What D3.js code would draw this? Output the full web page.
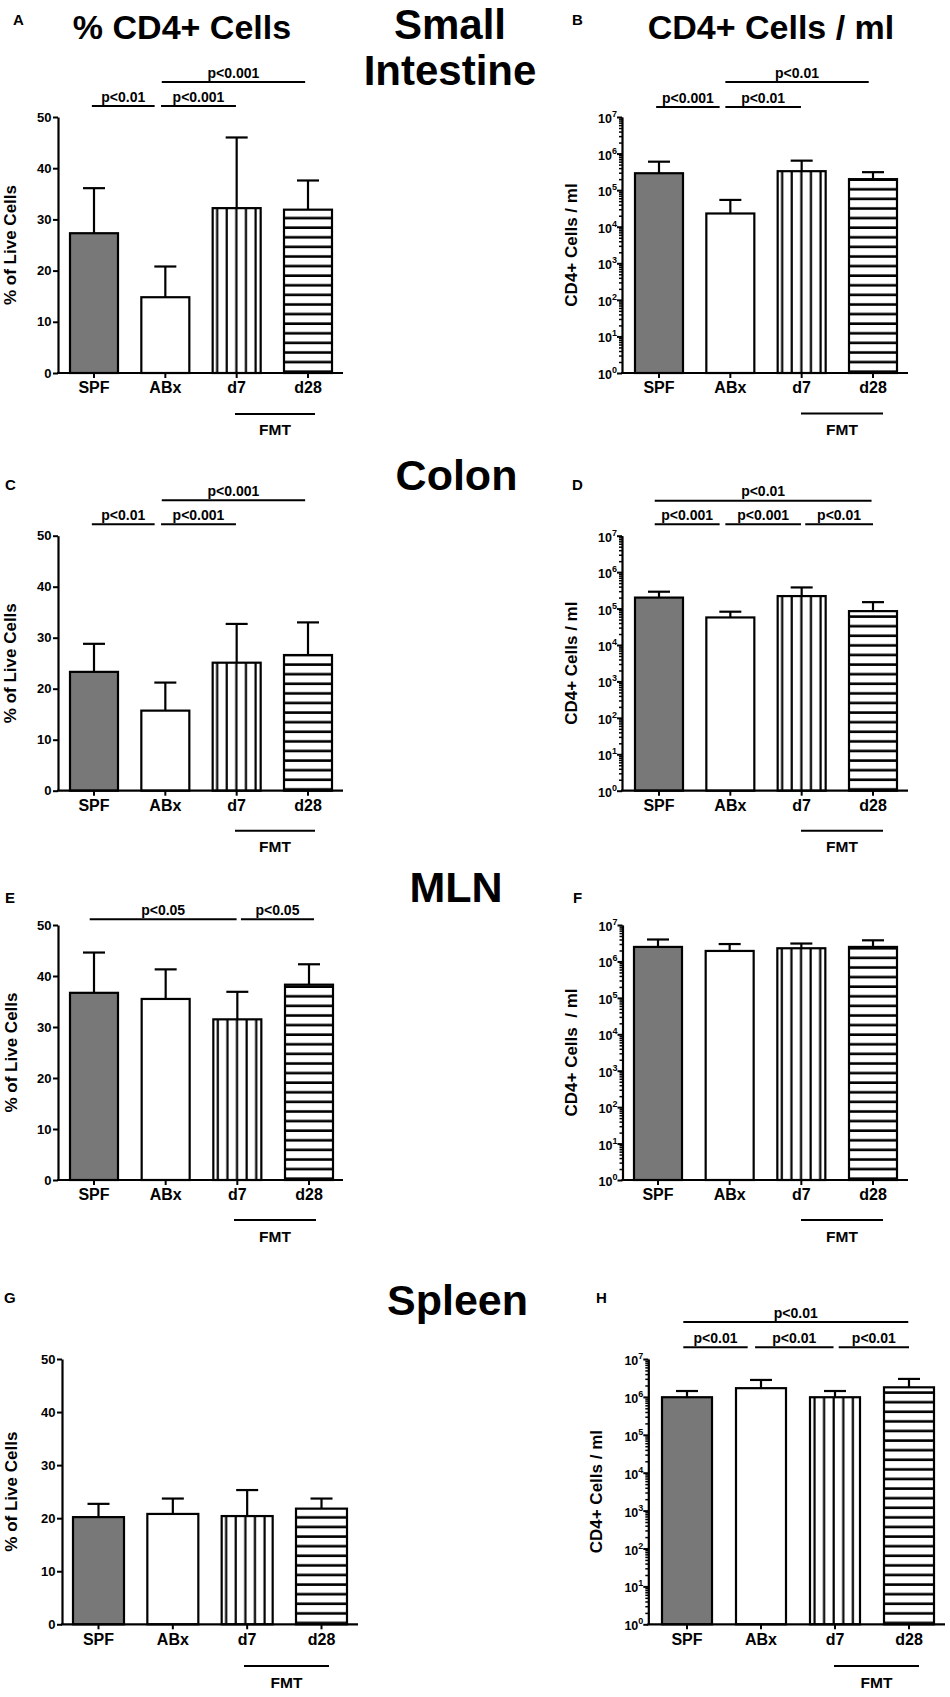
<!DOCTYPE html>
<html><head><meta charset="utf-8">
<script src="https://cdn.jsdelivr.net/npm/d3@7"></script>
<style>
body{margin:0;background:#fff}
svg{display:block}
text{font-family:"Liberation Sans",Arial,Helvetica,sans-serif;font-weight:bold;fill:#000}
</style>
</head><body>
<svg id="c" width="950" height="1697"></svg>
<script>
// ---------------- DATA ----------------
const groups = ["SPF", "ABx", "d7", "d28"];
const pctTicks = [0, 10, 20, 30, 40, 50];
const logTicks = [1, 10, 100, 1e3, 1e4, 1e5, 1e6, 1e7];

// Small intestine
const siPctMean = [27.3, 14.8, 32.2, 31.9];
const siPctErr = [8.8, 6.0, 13.8, 5.7];
const siCountMean = [2.9e5, 2.3e4, 3.3e5, 2.0e5];
const siCountErr = [3.1e5, 3.1e4, 3.1e5, 1.1e5];
// Colon
const colonPctMean = [23.3, 15.7, 25.1, 26.6];
const colonPctErr = [5.5, 5.5, 7.6, 6.4];
const colonCountMean = [2.0e5, 5.7e4, 2.2e5, 8.5e4];
const colonCountErr = [0.9e5, 2.5e4, 1.6e5, 6.5e4];
// MLN
const mlnPctMean = [36.7, 35.5, 31.5, 38.3];
const mlnPctErr = [7.9, 5.8, 5.4, 4.0];
const mlnCountMean = [2.5e6, 1.94e6, 2.3e6, 2.5e6];
const mlnCountErr = [1.5e6, 1.06e6, 0.8e6, 1.3e6];
// Spleen
const spleenPctMean = [20.2, 20.8, 20.4, 21.8];
const spleenPctErr = [2.5, 2.9, 4.9, 1.9];
const spleenCountMean = [9.8e5, 1.7e6, 9.8e5, 1.79e6];
const spleenCountErr = [4.5e5, 1.1e6, 4.5e5, 1.19e6];

// significance brackets: [from (group index), to (group index), label, row]
const sigA = [[-0.03, 0.85, "p<0.01", 0], [0.94, 1.99, "p<0.001", 0], [0.95, 2.96, "p<0.001", 1]];
const sigB = [[-0.04, 0.85, "p<0.001", 0], [0.93, 1.99, "p<0.01", 0], [0.93, 2.94, "p<0.01", 1]];
const sigC = [[-0.03, 0.85, "p<0.01", 0], [0.94, 1.99, "p<0.001", 0], [0.95, 2.96, "p<0.001", 1]];
const sigD = [[-0.06, 0.85, "p<0.001", 0], [0.93, 1.99, "p<0.001", 0], [2.05, 3.0, "p<0.01", 0], [-0.06, 2.98, "p<0.01", 1]];
const sigE = [[-0.06, 1.99, "p<0.05", 0], [2.05, 3.07, "p<0.05", 0]];
const sigF = [];
const sigG = [];
const sigH = [[-0.05, 0.82, "p<0.01", 0], [0.92, 1.98, "p<0.01", 0], [2.05, 3.0, "p<0.01", 0], [-0.05, 2.99, "p<0.01", 1]];

const pctTitle = "% of Live Cells";
const countTitle = "CD4+ Cells / ml";
const countTitleF = "CD4+ Cells  / ml";
const colTitles = ["% CD4+ Cells", "CD4+ Cells / ml"];
const rowTitles = [["Small", "Intestine"], ["Colon"], ["MLN"], ["Spleen"]];
const groupLabel = "FMT";

// ---------------- LAYOUT ----------------
const panels = [
  {id:"A", mean:siPctMean, err:siPctErr, sig:sigA, log:false, yTitle:pctTitle, ax:58, xEnd:343, bl:70, br:332, bw:48, top:117, bot:373, rows:[106,82], letter:[13,25], fmtY:[414,435], fmtX:[235,315], ytx:16},
  {id:"B", mean:siCountMean, err:siCountErr, sig:sigB, log:true, yTitle:countTitle, ax:622, xEnd:908, bl:635, br:897, bw:48, top:117, bot:373, rows:[107,82], letter:[572,25], fmtY:[413.5,435], fmtX:[801,883], ytx:577},
  {id:"C", mean:colonPctMean, err:colonPctErr, sig:sigC, log:false, yTitle:pctTitle, ax:58, xEnd:343, bl:70, br:332, bw:48, top:535.7, bot:790.7, rows:[524.3,500.3], letter:[5,490], fmtY:[830.7,851.7], fmtX:[235,315], ytx:16},
  {id:"D", mean:colonCountMean, err:colonCountErr, sig:sigD, log:true, yTitle:countTitle, ax:622, xEnd:908, bl:635, br:897, bw:48, top:535.7, bot:790.7, rows:[524.3,500.7], letter:[572,490], fmtY:[830.7,851.7], fmtX:[801,883], ytx:577},
  {id:"E", mean:mlnPctMean, err:mlnPctErr, sig:sigE, log:false, yTitle:pctTitle, ax:58, xEnd:343, bl:70, br:333, bw:48, top:925, bot:1180, rows:[919.3], letter:[5,902.7], fmtY:[1220,1242], fmtX:[234,316], ytx:16.5},
  {id:"F", mean:mlnCountMean, err:mlnCountErr, sig:sigF, log:true, yTitle:countTitleF, ax:622.5, xEnd:908, bl:634, br:897, bw:48, top:925, bot:1180, rows:[], letter:[573,902.7], fmtY:[1220,1242], fmtX:[801,883], ytx:577},
  {id:"G", mean:spleenPctMean, err:spleenPctErr, sig:sigG, log:false, yTitle:pctTitle, ax:62, xEnd:358, bl:73, br:347, bw:51, top:1359, bot:1624.3, rows:[], letter:[4,1303], fmtY:[1666,1688], fmtX:[244,329], ytx:16.5},
  {id:"H", mean:spleenCountMean, err:spleenCountErr, sig:sigH, log:true, yTitle:countTitle, ax:648.3, xEnd:945, bl:662, br:934, bw:50, top:1359, bot:1624.3, rows:[1347.3,1322], letter:[596,1303], fmtY:[1666,1688], fmtX:[834,919], ytx:602}
];

const colTitlePos = [[182, 39], [771, 39]];
const rowTitlePos = [[450, [38.5, 85]], [456.5, [490]], [456, [901.7]], [457.5, [1315]]];
const rowTitleSize = [42, 43, 43, 43];

// ---------------- DRAW ----------------
const svg = d3.select("#c");
const defs = svg.append("defs");
const LW = 2.2;

// titles
colTitles.forEach((t, i) => {
  svg.append("text").attr("x", colTitlePos[i][0]).attr("y", colTitlePos[i][1])
    .attr("text-anchor", "middle").style("font-size", "34px").text(t);
});
rowTitles.forEach((lines, i) => {
  lines.forEach((t, j) => {
    svg.append("text").attr("x", rowTitlePos[i][0]).attr("y", rowTitlePos[i][1][j])
      .attr("text-anchor", "middle").style("font-size", rowTitleSize[i] + "px").text(t);
  });
});

panels.forEach(p => {
  const g = svg.append("g");
  const pi = 1 - p.bw / ((p.br - p.bl - p.bw) / 3);
  const x = d3.scaleBand().domain(groups).range([p.bl, p.br]).paddingInner(pi).paddingOuter(0);
  const y = p.log
    ? d3.scaleLog().domain([1, 1e7]).range([p.bot, p.top])
    : d3.scaleLinear().domain([0, 50]).range([p.bot, p.top]);
  const step = x.step();
  const c0 = x(groups[0]) + x.bandwidth() / 2;
  const fx = f => c0 + f * step;

  // patterns
  const period = 9.6;
  const vp = defs.append("pattern").attr("id", "v" + p.id).attr("patternUnits", "userSpaceOnUse")
    .attr("width", period).attr("height", 20).attr("patternTransform", `translate(${x("d7")},0)`);
  vp.append("rect").attr("width", period).attr("height", 20).attr("fill", "#fff");
  vp.append("rect").attr("x", 3.4).attr("width", 2.2).attr("height", 20).attr("fill", "#000");
  const hp = defs.append("pattern").attr("id", "h" + p.id).attr("patternUnits", "userSpaceOnUse")
    .attr("width", 20).attr("height", period).attr("patternTransform", `translate(0,${p.bot})`);
  hp.append("rect").attr("width", 20).attr("height", period).attr("fill", "#fff");
  hp.append("rect").attr("y", period - 2.6).attr("width", 20).attr("height", 2.6).attr("fill", "#000");

  const fills = {"SPF": "#787878", "ABx": "#fff", "d7": `url(#v${p.id})`, "d28": `url(#h${p.id})`};

  // error bars
  const capW = 22;
  groups.forEach((gr, i) => {
    const cx = x(gr) + x.bandwidth() / 2;
    const yt = y(p.mean[i] + p.err[i]);
    g.append("line").attr("x1", cx).attr("x2", cx).attr("y1", y(p.mean[i])).attr("y2", yt)
      .attr("stroke", "#000").attr("stroke-width", LW);
    g.append("line").attr("x1", cx - capW / 2).attr("x2", cx + capW / 2).attr("y1", yt).attr("y2", yt)
      .attr("stroke", "#000").attr("stroke-width", LW);
  });

  // bars
  g.selectAll("rect.bar").data(groups).join("rect").attr("class", "bar")
    .attr("x", d => x(d)).attr("width", x.bandwidth())
    .attr("y", (d, i) => y(p.mean[i])).attr("height", (d, i) => p.bot - y(p.mean[i]))
    .attr("fill", d => fills[d]).attr("stroke", "#000").attr("stroke-width", LW);

  // y axis
  if (!p.log) {
    const ya = d3.axisLeft(y).tickValues(pctTicks).tickSize(5).tickSizeOuter(0).tickPadding(1.5);
    const ag = g.append("g").attr("transform", `translate(${p.ax},0)`).call(ya);
    ag.selectAll("text").style("font-size", "13px").style("font-family", null);
    ag.select(".domain").attr("stroke-width", LW);
    ag.selectAll(".tick line").attr("stroke-width", 2);
  } else {
    const minor = [];
    for (let k = 0; k < 7; k++) for (let m = 2; m <= 9; m++) minor.push(m * Math.pow(10, k));
    const ma = d3.axisLeft(y).tickValues(minor).tickSize(3).tickSizeOuter(0).tickFormat("");
    const mg = g.append("g").attr("transform", `translate(${p.ax},0)`).call(ma);
    mg.selectAll(".tick line").attr("stroke-width", 1.5);
    const ya = d3.axisLeft(y).tickValues(logTicks).tickSize(5).tickSizeOuter(0).tickFormat("");
    const ag = g.append("g").attr("transform", `translate(${p.ax},0)`).call(ya);
    ag.select(".domain").attr("stroke-width", LW);
    ag.selectAll(".tick line").attr("stroke-width", 2);
    logTicks.forEach(v => {
      const t = g.append("text").attr("x", p.ax - 5).attr("y", y(v) + 6)
        .attr("text-anchor", "end").style("font-size", "12.5px");
      t.append("tspan").text("10");
      t.append("tspan").attr("dy", -6).style("font-size", "9px").text(Math.round(Math.log10(v)));
    });
  }

  // x axis
  g.append("line").attr("x1", p.ax - 1).attr("x2", p.xEnd).attr("y1", p.bot).attr("y2", p.bot)
    .attr("stroke", "#000").attr("stroke-width", LW);
  const xa = d3.axisBottom(x).tickSize(5).tickSizeOuter(0).tickPadding(4);
  const xg = g.append("g").attr("transform", `translate(0,${p.bot})`).call(xa);
  xg.select(".domain").remove();
  xg.selectAll(".tick line").attr("stroke-width", 2);
  xg.selectAll("text").style("font-size", "16px").style("font-family", null);

  // y title
  g.append("text").attr("transform", `translate(${p.ytx},${(p.top + p.bot) / 2}) rotate(-90)`)
    .attr("text-anchor", "middle").style("font-size", "17px").style("white-space", "pre").text(p.yTitle);

  // significance
  p.sig.forEach(s => {
    const yy = p.rows[s[3]];
    g.append("line").attr("x1", fx(s[0])).attr("x2", fx(s[1])).attr("y1", yy).attr("y2", yy)
      .attr("stroke", "#000").attr("stroke-width", 2);
    g.append("text").attr("x", (fx(s[0]) + fx(s[1])) / 2).attr("y", yy - 4.5)
      .attr("text-anchor", "middle").style("font-size", "14px").text(s[2]);
  });

  // FMT
  g.append("line").attr("x1", p.fmtX[0]).attr("x2", p.fmtX[1]).attr("y1", p.fmtY[0]).attr("y2", p.fmtY[0])
    .attr("stroke", "#000").attr("stroke-width", 2);
  g.append("text").attr("x", (p.fmtX[0] + p.fmtX[1]) / 2).attr("y", p.fmtY[1])
    .attr("text-anchor", "middle").style("font-size", "15.5px").text(groupLabel);

  // panel letter
  g.append("text").attr("x", p.letter[0]).attr("y", p.letter[1]).style("font-size", "15px").text(p.id);
});
</script>
</body></html>
